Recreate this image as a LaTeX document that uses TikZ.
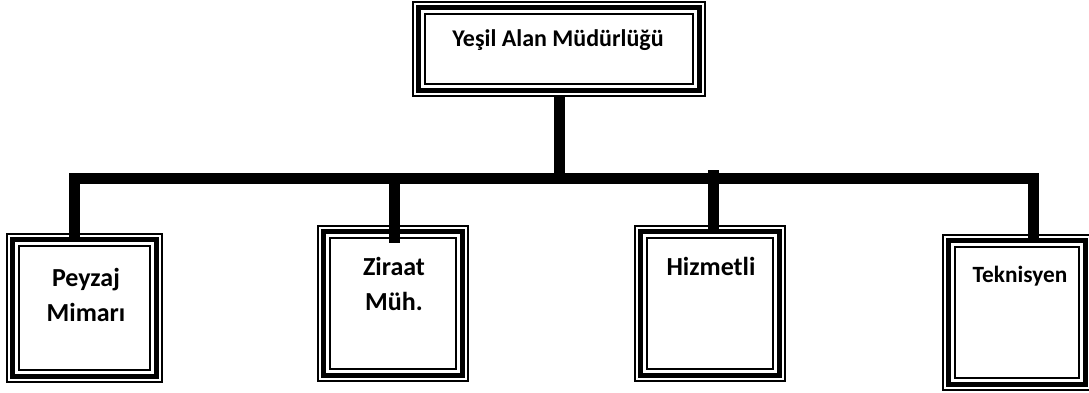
\documentclass[tikz,border=0pt]{standalone}
\usepackage{fontspec}
\setmainfont{Carlito}
\usetikzlibrary{calc}
\tikzset{
  orgbox/.style={draw, line width=1.2pt, fill=white, inner sep=0pt, outer sep=0pt, anchor=north west,
    path picture={
      \draw[line width=5pt] ([shift={(5.5pt,-5.5pt)}]path picture bounding box.north west) rectangle ([shift={(-5.5pt,5.5pt)}]path picture bounding box.south east);
      \draw[line width=1.8pt] ([shift={(12pt,-12pt)}]path picture bounding box.north west) rectangle ([shift={(-12pt,12pt)}]path picture bounding box.south east);
    }},
  lbl/.style={font=\bfseries\fontsize{26}{35}\selectfont, align=center, inner sep=0pt, anchor=base},
  conn/.style={line width=11pt, line cap=butt, line join=miter}
}
\begin{document}
\begin{tikzpicture}[x=1pt,y=-1pt]
\useasboundingbox (0,0) rectangle (1089,392);
\clip (0,0) rectangle (1089,392);
\node[orgbox, minimum width=292pt, minimum height=94pt] (top) at (413,2) {};
\node[orgbox, minimum width=155pt, minimum height=148pt] (b1) at (7,234) {};
\node[orgbox, minimum width=150pt, minimum height=155pt] (b2) at (318,226) {};
\node[orgbox, minimum width=150pt, minimum height=155pt] (b3) at (635,226) {};
\node[orgbox, minimum width=148pt, minimum height=155pt] (b4) at (943,235) {};
\node[lbl, font=\bfseries\fontsize{24}{30}\selectfont] (ttop) at (558,46) {Yeşil Alan Müdürlüğü};
\node[lbl] (t1) at (86,321) {Peyzaj\\Mimarı};
\node[lbl] (t2) at (394,310) {Ziraat\\Müh.};
\node[lbl] (t3) at (711,275) {Hizmetli};
\node[lbl, font=\bfseries\fontsize{23.3}{30}\selectfont] (t4) at (1020,282) {Teknisyen};
\coordinate (hl) at (74,178.5);
\coordinate (hr) at (1033,178.5);
\coordinate (h2) at (394,178.5);
\coordinate (h3) at (713,170);
\draw[conn] (top.south) -- (top.south |- hl);
\draw[conn] ($(b1.north -| hl)+(0,6)$) -- (hl) -- (hr) -- ($(b4.north -| hr)+(0,5)$);
\draw[conn] (h2) -- ($(b2.north -| h2)+(0,17)$);
\draw[conn] (h3) -- ($(b3.north -| h3)+(0,6)$);
\end{tikzpicture}
\end{document}
